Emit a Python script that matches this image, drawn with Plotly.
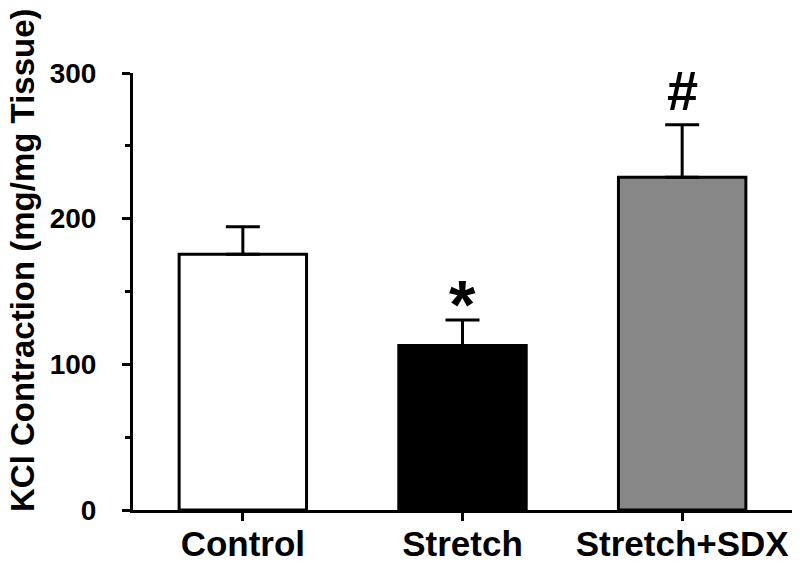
import plotly.graph_objects as go

categories = ["Control", "Stretch", "Stretch+SDX"]
values = [175.5, 113, 228.5]
errors = [19, 17.5, 36]
fill_colors = ["#ffffff", "#000000", "#878787"]
marks = ["", "*", "#"]
y_ticks = [0, 100, 200, 300]

FONT = "Liberation Sans, Arial, sans-serif"

fig = go.Figure()
fig.add_trace(go.Bar(
    x=categories,
    y=values,
    width=0.58,
    marker=dict(color=fill_colors, line=dict(color="black", width=3)),
    error_y=dict(type="data", array=errors, arrayminus=[0] * len(errors),
                 symmetric=False, color="black", thickness=3, width=17),
    showlegend=False,
))

for c, v, e, m in zip(categories, values, errors, marks):
    if not m:
        continue
    size = 68 if m == "*" else 56
    fig.add_annotation(x=c, y=v + e, xref="x", yref="y", text=m, showarrow=False,
                       yanchor="bottom", yshift=(-24 if m == "*" else 1),
                       font=dict(family=FONT, size=size, color="black", weight="bold"))

fig.add_annotation(x=0, y=0.572, xref="paper", yref="paper", xshift=-111,
                   text="KCl Contraction (mg/mg Tissue)", textangle=-90, showarrow=False,
                   xanchor="center", yanchor="middle",
                   font=dict(family=FONT, size=33, color="black", weight="bold"))

fig.update_layout(
    width=800, height=563,
    margin=dict(l=133, r=8, t=73, b=53, autoexpand=False),
    paper_bgcolor="white", plot_bgcolor="white",
    font=dict(family=FONT, color="black"),
    bargap=0.42,
)
fig.update_xaxes(
    range=[-0.5, 2.5], showline=True, linecolor="black", linewidth=3,
    ticks="outside", ticklen=8, tickwidth=3, tickcolor="black",
    tickfont=dict(family=FONT, size=35, color="black", weight="bold"),
    ticklabelstandoff=-7,
    showgrid=False, zeroline=False, fixedrange=True, automargin=False,
)
fig.update_yaxes(
    range=[0, 300], tickvals=y_ticks, showline=True, linecolor="black", linewidth=3,
    ticks="outside", ticklen=8, tickwidth=3, tickcolor="black",
    minor=dict(dtick=50, ticks="outside", ticklen=5, tickwidth=3, tickcolor="black", showgrid=False),
    tickfont=dict(family=FONT, size=28, color="black", weight="bold"),
    ticklabelstandoff=20,
    showgrid=False, zeroline=False, fixedrange=True, automargin=False,
)

fig.write_html(
    "out.html",
    config={"displayModeBar": False},
    post_script="document.body.style.margin='0';document.body.style.overflow='hidden';",
)
